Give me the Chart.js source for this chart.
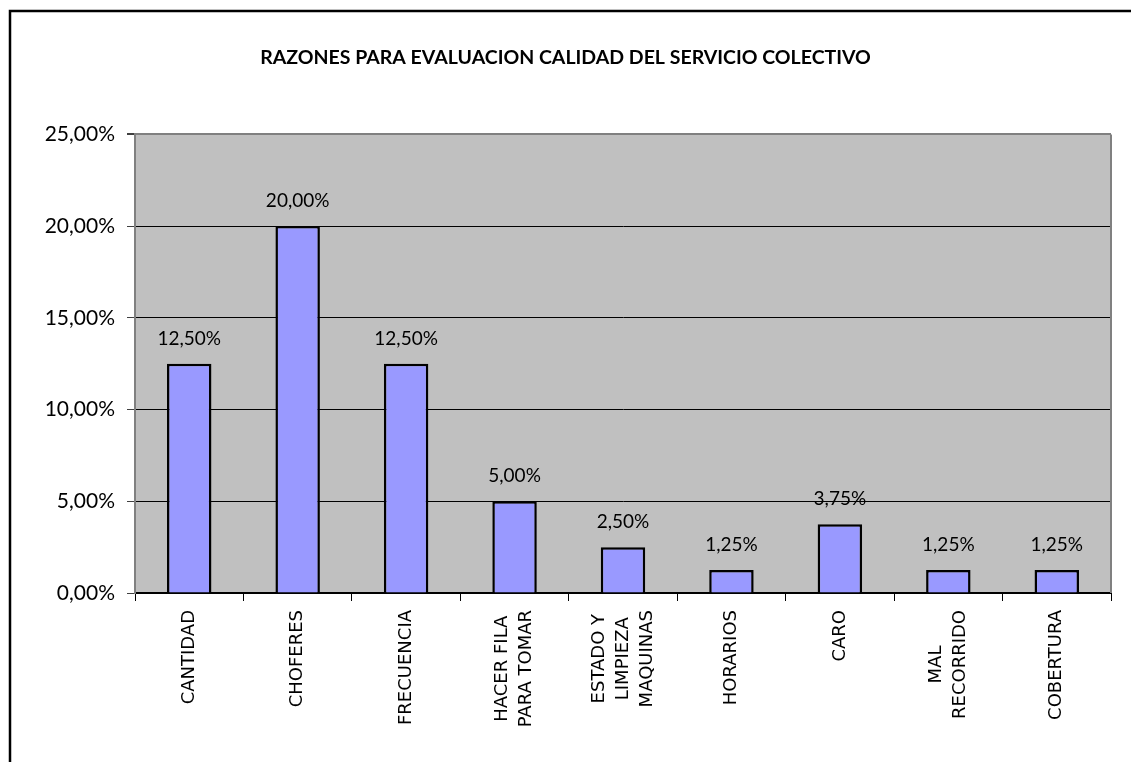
<!DOCTYPE html>
<html>
<head>
<meta charset="utf-8">
<script src="https://cdn.jsdelivr.net/npm/chart.js@4.4.1/dist/chart.umd.min.js"></script>
<style>
  html, body { margin: 0; padding: 0; background: #fff; }
  #wrap { width: 1131px; height: 762px; position: relative; }
</style>
</head>
<body>
<div id="wrap"><canvas id="myChart"></canvas></div>
<script>
const categories = [
  ["CANTIDAD"],
  ["CHOFERES"],
  ["FRECUENCIA"],
  ["HACER FILA", "PARA TOMAR"],
  ["ESTADO Y", "LIMPIEZA", "MAQUINAS"],
  ["HORARIOS"],
  ["CARO"],
  ["MAL", "RECORRIDO"],
  ["COBERTURA"]
];
const values = [12.5, 20, 12.5, 5, 2.5, 1.25, 3.75, 1.25, 1.25];
const yTicks = [0, 5, 10, 15, 20, 25];

const ctx = document.getElementById("myChart");

// comma decimal, like the original sheet
function pct(v) {
  return v.toFixed(2).replace(".", ",") + "%";
}

// white page, outer frame and gray plot background
const backdrop = {
  id: "backdrop",
  beforeDraw(chart) {
    const c = chart.ctx;
    const a = chart.chartArea;
    c.save();
    c.fillStyle = "#fff";
    c.fillRect(0, 0, chart.width, chart.height);
    c.fillStyle = "#C0C0C0";
    c.fillRect(a.left, a.top, a.right - a.left, a.bottom - a.top);
    c.strokeStyle = "#000";
    c.lineWidth = 2.5;
    c.beginPath();
    c.moveTo(10, chart.height + 5);
    c.lineTo(10, 11);
    c.lineTo(chart.width + 5, 11);
    c.stroke();
    c.restore();
  },
  afterDatasetsDraw(chart) {
    const c = chart.ctx;
    const a = chart.chartArea;
    c.save();
    c.strokeStyle = "#808080";
    c.lineWidth = 2;
    c.beginPath();
    c.moveTo(a.right, a.top);
    c.lineTo(a.right, a.bottom);
    c.stroke();
    c.restore();
  }
};

// value labels above bars
const valueLabels = {
  id: "valueLabels",
  afterDatasetsDraw(chart) {
    const c = chart.ctx;
    const meta = chart.getDatasetMeta(0);
    c.save();
    c.font = "19px Lato";
    c.fillStyle = "#000";
    c.textAlign = "center";
    c.textBaseline = "middle";
    meta.data.forEach((bar, i) => {
      c.fillText(pct(values[i]), bar.x, bar.y - 25);
    });
    c.restore();
  }
};

// rotated category labels, lines centred on each other
const catLabels = {
  id: "catLabels",
  afterDraw(chart) {
    const c = chart.ctx;
    const x = chart.scales.x;
    const lh = 24;
    c.save();
    c.font = "18px 'DejaVu Sans'";
    c.fillStyle = "#000";
    c.textAlign = "center";
    c.textBaseline = "middle";
    categories.forEach((lines, i) => {
      const px = x.getPixelForValue(i);
      const w = Math.max(...lines.map((l) => c.measureText(l).width));
      const top = chart.chartArea.bottom + 17;
      lines.forEach((line, j) => {
        const lx = px + (j - (lines.length - 1) / 2) * lh;
        c.save();
        c.translate(lx, top + w / 2);
        c.rotate(-Math.PI / 2);
        c.fillText(line, 0, 0);
        c.restore();
      });
    });
    c.restore();
  }
};

const myChart = new Chart(ctx, {
  type: "bar",
  data: {
    labels: categories.map((l) => l.join(" ")),
    datasets: [
      {
        label: "Razones",
        data: values,
        backgroundColor: "#9999FF",
        borderColor: "#000",
        borderWidth: 2.5,
        barPercentage: 0.41,
        categoryPercentage: 1,
      },
    ],
  },
  options: {
    responsive: true,
    maintainAspectRatio: false,
    animation: false,
    layout: { padding: { left: 20, right: 20, top: 0, bottom: 0 } },
    plugins: {
      legend: { display: false },
      tooltip: { enabled: false },
      title: {
        display: true,
        text: "RAZONES PARA EVALUACION CALIDAD DEL SERVICIO COLECTIVO",
        color: "#000",
        font: { family: "Lato", size: 19.5, weight: "bold", lineHeight: 1.2 },
        padding: { top: 46, bottom: 65 },
      },
    },
    scales: {
      x: {
        grid: {
          drawOnChartArea: false,
          drawTicks: true,
          tickLength: 8,
          tickColor: "#000",
          tickWidth: 1,
          offset: true,
        },
        border: { color: "#000", width: 2 },
        ticks: { display: false },
        afterFit(scale) {
          scale.height = 169;
        },
      },
      y: {
        min: 0,
        max: 25,
        afterBuildTicks(scale) {
          scale.ticks = yTicks.map((v) => ({ value: v }));
        },
        grid: {
          color: (c) => (c.tick && c.tick.value === 25 ? "#808080" : "#000"),
          lineWidth: (c) => (c.tick && c.tick.value === 25 ? 2 : 1),
          tickColor: "#404040",
          tickLength: 8,
        },
        border: { color: "#808080", width: 2 },
        ticks: {
          color: "#000",
          font: { family: "Lato", size: 21 },
          padding: 12,
          callback: (v) => pct(v),
        },
        afterFit(scale) {
          scale.width = 115;
        },
      },
    },
  },
  plugins: [backdrop, valueLabels, catLabels],
});
</script>
</body>
</html>
